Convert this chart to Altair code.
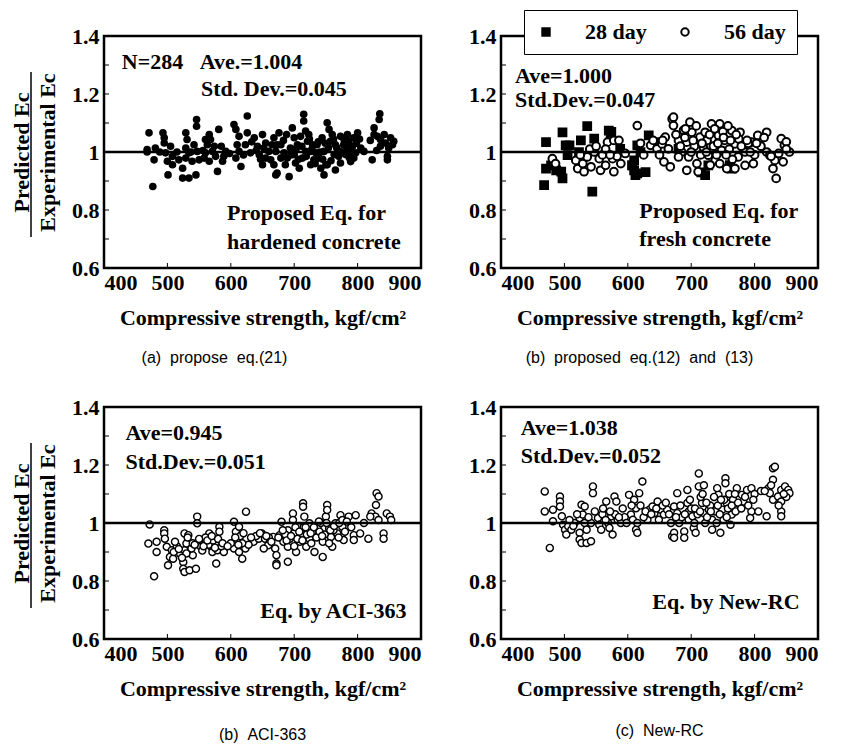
import altair as alt
import pandas as pd

# ---------------- data ----------------
A_STRENGTH = [471,477,468,468,481,479,493,495,495,497,500,501,508,508,518,524,524,534,545,529,
              531,529,534,529,539,546,546,542,547,550,566,568,563,560,571,576,566,579,581,558,
              587,589,592,560,605,608,613,610,613,608,616,626,626,623,631,637,642,650,652,655,
              645,655,660,663,650,665,671,671,668,673,676,679,684,692,689,694,697,700,702,715,
              715,718,721,718,713,708,726,731,736,742,747,750,752,755,757,763,765,747,773,778,
              784,800,794,797,823,826,835,834,826,831,836,844,852,857,849,847,847,789,805,679,
              686,700,705,710,723,729,734,739,744,760,765,771,781,786,794,789,673,668,726,752,
              773,810,836,855]
A_RATIO = [1.066,0.881,1.0,1.008,1.014,0.973,1.066,1.049,1.031,0.997,0.968,0.921,0.985,0.956,0.973,0.944,0.91,0.91,0.921,1.066,
           1.043,1.014,0.997,0.979,0.968,1.112,1.089,1.025,1.002,0.973,1.06,1.043,1.025,0.997,1.002,0.985,0.968,0.933,1.078,0.979,
           0.968,0.985,1.002,1.043,1.095,1.078,1.054,1.025,1.002,0.979,0.95,1.124,1.066,1.025,0.997,1.049,1.02,1.06,1.014,0.979,
           0.99,1.031,1.002,0.973,0.956,1.025,1.002,0.921,0.956,0.927,1.066,1.025,0.997,0.915,0.979,1.014,1.083,1.049,0.962,1.13,
           1.107,1.072,1.037,1.002,0.979,0.944,1.002,0.973,1.025,0.944,0.921,0.956,1.101,1.078,1.037,0.991,0.938,1.002,1.054,1.025,
           1.06,1.066,0.979,0.997,0.973,1.06,1.132,1.112,1.083,1.054,1.043,1.031,1.049,1.037,1.014,0.973,0.985,1.002,1.014,0.979,
           0.956,0.991,1.025,1.054,1.06,1.025,0.997,0.979,1.049,1.06,1.025,1.002,0.991,1.037,1.049,0.967,1.025,1.049,0.956,0.956,
           0.962,1.002,1.02,1.025]
A_STRENGTH_2 = [683,688,695,703,707,712,719,724,728,733,738,741,745,749,754,758,762,767,770,775,
                779,783,787,792,798,803,640,647,633,620,598,585,574,556,537,515,505,488,820,842,830]
A_RATIO_2 = [1.04,1.06,0.99,1.01,0.975,1.02,0.985,1.045,1.01,0.96,1.035,1.0,0.975,1.03,1.015,0.97,1.045,1.015,0.985,1.0,
             1.04,1.015,0.98,1.02,1.03,1.045,1.005,0.975,1.035,0.99,0.995,1.02,1.02,1.005,1.0,1.0,1.02,1.0,1.04,1.06,1.005]

B28_STRENGTH = [471,468,497,536,544,479,487,495,505,508,526,523,570,573,610,610,615,607,620,615,
                716,761,471,497,502,547,574,607,612,628,633,643,722,727,764,680,588]
B28_RATIO = [1.034,0.886,1.068,1.089,0.863,0.954,0.937,0.932,0.989,1.023,1.04,1.0,1.074,1.051,0.971,0.937,0.926,0.954,1.0,1.023,
             0.93,0.955,0.943,0.909,1.023,1.046,1.069,0.954,0.92,0.931,1.057,1.034,0.92,0.954,0.943,1.011,1.011]

B56_STRENGTH = [481,518,521,529,531,536,542,547,555,557,565,568,578,586,576,578,589,615,636,646,
                654,659,664,657,667,670,672,672,680,685,680,698,701,693,696,693,709,711,714,722,
                719,727,732,745,743,753,748,738,745,756,769,764,777,769,782,774,785,798,795,805,
                819,819,824,832,829,834,842,847,855,845,486,525,540,550,560,583,620,625,640,650,
                690,705,715,725,735,740,750,760,765,775,785,790,800,810,838,850,700,688,730,758,
                676,683,691,703,708,717,724,729,737,742,751,755,762,771,779,788,793,803,815,826,
                850,565,572,596,655]
B56_RATIO = [0.977,0.971,0.943,0.96,0.932,0.983,0.949,1.0,0.977,0.937,0.954,1.034,1.04,1.04,0.977,0.932,0.96,1.091,1.023,1.011,
             1.028,1.051,1.011,0.966,0.949,1.114,1.12,1.091,1.04,1.0,0.983,1.103,1.068,1.034,0.983,0.937,0.96,0.932,1.051,1.068,
             1.017,0.989,1.097,1.097,1.057,1.04,1.006,0.971,0.96,0.943,0.943,1.074,1.068,1.028,1.011,0.983,0.954,0.96,1.034,1.057,
             1.068,1.0,0.989,0.971,0.943,0.909,1.046,1.023,1.0,0.966,0.96,0.99,1.01,1.02,0.99,0.985,1.03,0.99,1.04,0.99,
             1.05,1.02,0.99,1.04,1.02,0.99,1.07,1.01,0.975,1.045,1.0,1.03,0.99,1.02,0.995,1.035,1.0,1.075,0.955,1.09,
             1.06,1.02,1.08,1.04,1.09,1.03,1.0,1.06,1.08,1.03,1.05,0.99,1.04,1.06,1.02,1.04,1.0,1.03,1.05,0.985,
             1.01,1.01,0.99,0.995,1.04]

C_STRENGTH = [472,479,470,483,483,495,495,496,499,507,504,501,509,520,527,533,530,527,525,525,
              527,535,545,540,538,547,547,553,561,566,569,571,577,579,582,582,589,577,605,608,
              613,610,605,613,618,623,624,636,644,649,654,659,652,667,670,672,672,672,677,683,
              680,690,690,690,693,698,698,703,706,709,711,714,714,716,719,724,724,729,732,737,
              745,745,750,752,752,755,758,760,765,768,773,776,778,786,797,794,804,794,817,822,
              828,830,833,829,833,841,841,846,851,853,820,560,565,572,585,540,530,515,510,555,
              615,628,640,660,700,705,715,720,735,740,748,755,762,770,780,700,686,727,742,618,
              600]
C_RATIO = [0.995,0.816,0.929,0.935,0.9,0.975,0.964,0.946,0.918,0.906,0.883,0.854,0.877,0.894,0.964,0.958,0.929,0.906,0.865,0.842,
           0.831,0.837,0.842,0.889,0.912,1.022,0.999,0.918,0.935,0.964,0.918,0.9,0.929,0.906,0.987,0.97,0.9,0.86,1.004,0.97,
           0.987,0.941,0.912,0.9,0.877,0.912,1.039,0.935,0.946,0.964,0.946,0.923,0.912,0.952,0.912,0.86,0.889,0.854,0.958,0.935,
           1.004,0.975,0.918,0.866,0.946,1.033,1.01,0.9,0.987,0.935,0.964,1.068,1.056,1.022,0.918,0.999,0.946,0.97,0.9,0.987,
           0.935,0.883,1.022,1.062,1.045,0.981,0.952,0.918,0.999,0.964,1.027,0.987,0.941,1.022,1.027,0.958,0.964,0.941,0.946,1.033,
           1.022,1.103,1.091,1.062,1.01,0.964,0.946,1.033,1.022,1.01,1.022,0.95,0.925,0.94,0.92,0.93,0.895,0.92,0.9,0.905,
           0.955,0.925,0.955,0.95,0.965,0.945,0.985,0.96,0.95,0.97,0.96,0.93,0.975,0.95,0.97,0.92,0.96,0.93,1.0,0.93,
           0.93]
C_STRENGTH_2 = [512,518,523,532,543,550,557,563,570,575,580,587,595,607,612,620,632,646,656,664,
                675,682,688,695,702,708,713,718,726,731,739,744,751,757,763,771,776,783,790,810]
C_RATIO_2 = [0.935,0.91,0.88,0.95,0.925,0.945,0.92,0.94,0.955,0.915,0.945,0.93,0.92,0.95,0.925,0.965,0.95,0.965,0.955,0.935,
             0.95,0.975,0.94,0.955,0.985,0.97,0.94,0.985,0.965,0.985,1.005,0.955,1.0,0.975,0.99,1.0,1.01,1.005,0.985,1.0]

D_STRENGTH = [469,469,477,482,482,493,493,493,496,498,501,503,506,511,516,524,524,527,535,542,
              524,527,532,529,532,535,545,545,542,553,555,558,563,566,569,571,574,576,579,582,
              584,589,602,605,608,610,613,613,615,618,623,615,631,634,639,642,647,649,652,657,
              662,668,670,673,673,673,678,678,681,689,689,694,694,696,696,702,704,707,712,712,
              717,720,722,728,733,733,741,743,746,749,751,754,754,756,762,764,772,775,780,777,
              782,788,795,795,793,806,819,829,832,829,822,824,829,837,842,848,853,855,842,842,
              842,560,565,580,595,620,625,645,655,665,685,700,705,710,715,725,730,738,745,752,
              758,760,766,770,785,800,810,838,850,720,740]
D_RATIO = [1.109,1.04,0.914,1.046,1.006,1.091,1.074,1.057,1.023,0.994,0.977,0.96,0.989,0.977,1.0,0.966,0.943,0.931,0.931,0.937,
           1.017,1.063,1.057,1.029,1.0,0.977,1.126,1.103,1.0,1.017,0.994,0.977,1.029,1.074,1.0,0.983,1.023,0.96,1.091,1.074,
           1.011,1.0,1.097,1.029,1.011,1.08,1.051,0.977,0.966,1.103,1.143,1.0,1.011,1.046,1.057,1.034,1.074,1.011,1.046,1.029,
           1.046,1.0,0.954,1.057,0.966,0.949,1.103,1.034,1.0,0.971,0.949,1.114,1.069,1.04,1.011,1.023,0.983,0.966,1.171,1.126,
           1.069,1.034,1.0,1.046,1.011,0.977,1.12,1.097,0.966,1.046,1.011,1.154,1.137,1.069,0.994,1.029,1.12,1.086,1.097,1.063,
           1.074,1.114,1.12,1.04,1.017,1.04,1.023,1.189,1.194,1.149,1.12,1.103,1.08,1.091,1.114,1.126,1.114,1.103,1.074,1.04,
           1.023,1.03,1.01,1.03,1.02,1.06,1.02,1.05,1.06,1.03,1.02,1.05,1.0,1.03,1.09,1.02,1.06,1.04,1.03,1.08,
           1.05,1.1,1.08,1.04,1.09,1.1,1.11,1.06,1.09,1.13,1.0]
D_STRENGTH_2 = [508,514,520,538,548,561,572,586,592,598,606,628,637,660,676,683,690,698,706,714,
                718,724,731,736,742,747,756,764,769,774,779,790,798,816,826,846]
D_RATIO_2 = [1.01,0.99,1.03,1.02,1.04,1.05,1.04,1.02,1.05,1.0,1.06,1.04,1.03,1.07,1.02,1.06,1.03,1.08,1.05,1.04,
             1.1,1.07,1.04,1.09,1.06,1.08,1.02,1.06,1.1,1.07,1.05,1.06,1.08,1.11,1.13,1.1]

SERIES = ["28 day", "56 day"]
X_TICKS = [400, 500, 600, 700, 800, 900]
Y_TICKS = [0.6, 0.8, 1.0, 1.2, 1.4]
X_INNER = [500, 600, 700, 800]
Y_INNER = [0.7, 0.8, 0.9, 1.0, 1.1, 1.2, 1.3]
X_TITLE = "Compressive strength, kgf/cm²"
Y_TITLE = ["Predicted Ec", "Experimental Ec"]
NB = "\u00a0"

# ---------------- styling ----------------
SERIF = "Liberation Serif"
SANS = "Liberation Sans"
FS = 22
W, H = 317, 232

xscale = alt.Scale(domain=[400, 900], nice=False, zero=False)
yscale = alt.Scale(domain=[0.6, 1.4], nice=False, zero=False)


def X(field):
    return alt.X(field, type="quantitative", scale=xscale,
                 axis=alt.Axis(values=X_TICKS, format="d", title=X_TITLE,
                               labelPadding=4, titlePadding=14))


def Y(field, left):
    if left:
        ax = alt.Axis(values=Y_TICKS, labelPadding=5, title=Y_TITLE, titlePadding=12,
                      titleLineHeight=26,
                      labelExpr="datum.value == 1 ? '1' : format(datum.value, '.1f')")
    else:
        ax = alt.Axis(values=Y_TICKS, labelPadding=5, title=None,
                      labelExpr="datum.value == 1 ? '1' : format(datum.value, '.1f')")
    return alt.Y(field, type="quantitative", scale=yscale, axis=ax)


def text_layer(xs, ys, texts, left, align="left"):
    df = pd.DataFrame({"s": xs, "r": ys, "t": texts})
    return alt.Chart(df).mark_text(font=SERIF, fontWeight="bold", fontSize=FS, align=align,
                                   baseline="middle", color="black").encode(
        x=X("s"), y=Y("r", left), text="t:N")


def common_layers(left):
    one = alt.Chart(pd.DataFrame({"r": [1.0]})).mark_rule(color="black", strokeWidth=2.5).encode(
        y=Y("r", left))
    yt = alt.Chart(pd.DataFrame({"r": Y_INNER})).mark_rule(color="black", strokeWidth=1).encode(
        y=Y("r", left), x=alt.value(0), x2=alt.value(5))
    xt = alt.Chart(pd.DataFrame({"s": X_INNER})).mark_rule(color="black", strokeWidth=1).encode(
        x=X("s"), y=alt.value(H), y2=alt.value(H - 5))
    out = [one, yt, xt]
    if left:
        bar = alt.Chart(pd.DataFrame({"k": [0]})).mark_rule(color="black", strokeWidth=1.5).encode(
            x=alt.value(-73), y=alt.value(36), y2=alt.value(201))
        out.append(bar)
    return out


def caption(text, dx=0, offset=22):
    return alt.TitleParams(text=text, orient="bottom", anchor="middle", frame="group",
                           offset=offset, dx=dx, font=SANS, fontSize=16, fontWeight="normal",
                           color="black")


# ---- panel (a)
dfa = pd.DataFrame({"s": A_STRENGTH + A_STRENGTH_2, "r": A_RATIO + A_RATIO_2})
pa_pts = alt.Chart(dfa).mark_point(shape="circle", filled=True, color="black", size=58,
                                   opacity=1).encode(x=X("s"), y=Y("r", True))
panel_a = alt.layer(
    pa_pts, *common_layers(True),
    text_layer([428, 553, 594, 594], [1.31, 1.216, 0.788, 0.69],
               ["N=284" + NB * 3 + "Ave.=1.004", "Std. Dev.=0.045", "Proposed Eq. for",
                "hardened concrete"], True),
).properties(width=W, height=H,
             title=caption("(a)" + NB * 2 + "propose" + NB * 2 + "eq.(21)", dx=-48))

# ---- panel (b)
dfb = pd.concat([
    pd.DataFrame({"s": B28_STRENGTH, "r": B28_RATIO, "age": SERIES[0]}),
    pd.DataFrame({"s": B56_STRENGTH, "r": B56_RATIO, "age": SERIES[1]}),
], ignore_index=True)
leg = alt.Legend(orient="none", legendX=23, legendY=-26, direction="horizontal", title=None,
                 strokeColor="black", fillColor="white", padding=11,
                 labelFont=SERIF, labelFontWeight="bold", labelFontSize=FS, labelColor="black",
                 symbolSize=55, symbolStrokeColor="black", symbolStrokeWidth=2,
                 labelOffset=28, columnPadding=27)
pb_pts = alt.Chart(dfb).mark_point(filled=True, strokeWidth=2, size=60, opacity=1).encode(
    x=X("s"), y=Y("r", False),
    shape=alt.Shape("age:N", scale=alt.Scale(domain=SERIES, range=["square", "circle"]), legend=leg),
    fill=alt.Fill("age:N", scale=alt.Scale(domain=SERIES, range=["black", "white"]), legend=leg),
    stroke=alt.Stroke("age:N", scale=alt.Scale(domain=SERIES, range=["black", "black"]), legend=leg),
)
panel_b = alt.layer(
    pb_pts, *common_layers(False),
    text_layer([422, 422, 618, 618], [1.263, 1.181, 0.795, 0.699],
               ["Ave=1.000", "Std.Dev.=0.047", "Proposed Eq. for", "fresh concrete"], False),
).properties(width=W, height=H,
             title=caption("(b)" + NB * 2 + "proposed" + NB * 2 + "eq.(12)" + NB * 2 + "and" + NB * 2 + "(13)",
                           dx=-20))

# ---- panel (c)
dfc = pd.DataFrame({"s": C_STRENGTH + C_STRENGTH_2, "r": C_RATIO + C_RATIO_2})
pc_pts = alt.Chart(dfc).mark_point(shape="circle", fill="white", stroke="black", strokeWidth=1.4,
                                   size=50, opacity=1).encode(x=X("s"), y=Y("r", True))
panel_c = alt.layer(
    pc_pts, *common_layers(True),
    text_layer([434, 434], [1.312, 1.212], ["Ave=0.945", "Std.Dev.=0.051"], True),
    text_layer([877], [0.698], ["Eq. by ACI-363"], True, align="right"),
).properties(width=W, height=H, title=caption("(b)" + NB * 2 + "ACI-363", offset=28))

# ---- panel (d)
dfd = pd.DataFrame({"s": D_STRENGTH + D_STRENGTH_2, "r": D_RATIO + D_RATIO_2})
pd_pts = alt.Chart(dfd).mark_point(shape="circle", fill="white", stroke="black", strokeWidth=1.4,
                                   size=50, opacity=1).encode(x=X("s"), y=Y("r", False))
panel_d = alt.layer(
    pd_pts, *common_layers(False),
    text_layer([431, 431], [1.326, 1.23], ["Ave=1.038", "Std.Dev.=0.052"], False),
    text_layer([871], [0.726], ["Eq. by New-RC"], False, align="right"),
).properties(width=W, height=H, title=caption("(c)" + NB * 2 + "New-RC", offset=24))

row1 = alt.hconcat(panel_a, panel_b, spacing=80, bounds="flush").resolve_scale(
    shape="independent", fill="independent", stroke="independent")
row2 = alt.hconcat(panel_c, panel_d, spacing=80, bounds="flush")

chart = alt.vconcat(row1, row2, spacing=H + 139, bounds="flush").resolve_scale(
    shape="independent", fill="independent", stroke="independent"
).properties(
    padding={"left": 1, "top": 0, "right": 2, "bottom": 0}
).configure_view(
    stroke="black", strokeWidth=2.5
).configure_axis(
    grid=False, domain=False, ticks=False,
    labelFont=SERIF, labelFontWeight="bold", labelFontSize=FS, labelColor="black",
    titleFont=SERIF, titleFontWeight="bold", titleFontSize=FS, titleColor="black",
)

chart.save("out.html", embed_options={"renderer": "svg", "actions": False})
